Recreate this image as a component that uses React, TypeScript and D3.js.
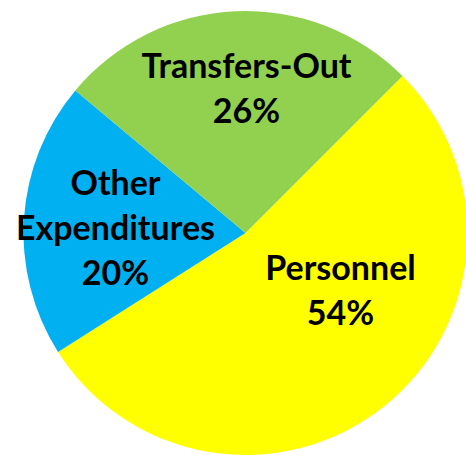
import React from "react";
import * as d3 from "d3";

const categories = ["Personnel", "Other Expenditures", "Transfers-Out"];
const values = [53.5, 20.1, 26.4];
const percentLabels = ["54%", "20%", "26%"];
const nameLines = [["Personnel"], ["Other", "Expenditures"], ["Transfers-Out"]];
const colors = ["#FFFF00", "#00B0F0", "#92D050"];

const W = 466;
const H = 455;
const CX = 245.5;
const CY = 233;
const R = 222;
const START_DEG = 45;
const LINE_H = 45;
const FONT_SIZE = 34;
// label block centers (Excel "best fit" placement)
const labelCenters: [number, number][] = [
  [340.5, 291],
  [115.5, 228.5],
  [246.5, 88.5],
];

export default function App() {
  const data = categories.map((c, i) => ({ name: c, value: values[i], i }));
  const start = (START_DEG * Math.PI) / 180;
  const pie = d3
    .pie<any>()
    .sort(null)
    .value((d) => d.value)
    .startAngle(start)
    .endAngle(start + 2 * Math.PI);
  const arcs = pie(data);
  const arc = d3.arc<any>().innerRadius(0).outerRadius(R);
  const capH = 23.5;

  return (
    <svg
      width={W}
      height={H}
      style={{ position: "absolute", left: 0, top: 0, display: "block" }}
    >
      <rect width={W} height={H} fill="#ffffff" />
      <g transform={`translate(${CX},${CY})`}>
        {arcs.map((a, i) => (
          <path key={i} d={arc(a) as string} fill={colors[a.data.i]} />
        ))}
      </g>
      {arcs.map((a, i) => {
        const idx = a.data.i;
        const lines = [...nameLines[idx], percentLabels[idx]];
        const [lx, ly] = labelCenters[idx];
        const n = lines.length;
        const firstBaseline = ly - ((n - 1) * LINE_H) / 2 + capH / 2;
        return (
          <text
            key={i}
            textAnchor="middle"
            fontFamily="Lato, 'Open Sans', sans-serif"
            fontWeight={700}
            fontSize={FONT_SIZE}
            fill="#000000"
          >
            {lines.map((t, j) => (
              <tspan key={j} x={lx} y={firstBaseline + j * LINE_H}>
                {t}
              </tspan>
            ))}
          </text>
        );
      })}
    </svg>
  );
}
